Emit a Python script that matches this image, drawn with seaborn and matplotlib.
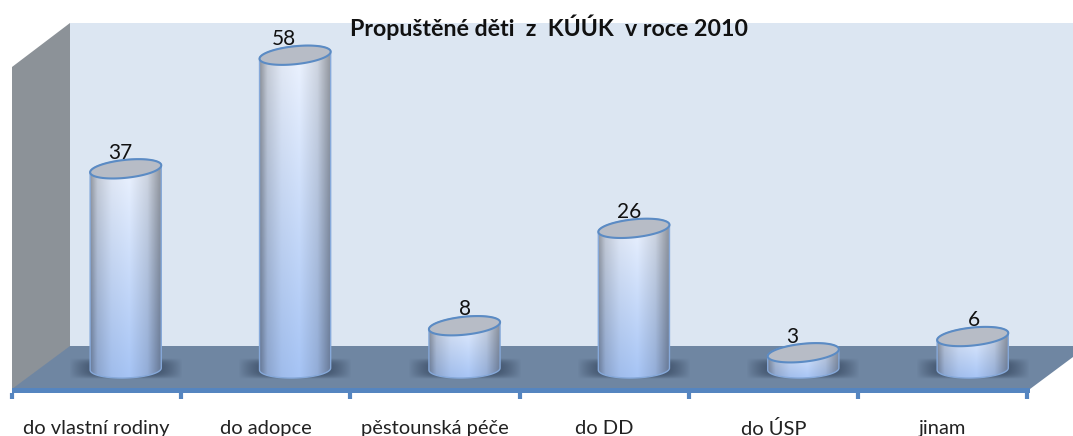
import numpy as np
import pandas as pd
import matplotlib
matplotlib.use("Agg")
import matplotlib.pyplot as plt
from matplotlib.patches import Polygon, Rectangle
from matplotlib.colors import to_rgb
import seaborn as sns

categories = ["do vlastní rodiny", "do adopce", "pěstounská péče", "do DD", "do ÚSP", "jinam"]
values = [37, 58, 8, 26, 3, 6]
title = "Propuštěné děti  z  KÚÚK  v roce 2010"

W, H = 1073, 436
PX_X = 169.4   # pixels per category
PX_Y = 5.41    # pixels per value unit

sns.set_theme(style="white")
plt.rcParams["font.family"] = ["Lato", "DejaVu Sans"]

fig = plt.figure(figsize=(W / 100, H / 100), dpi=100, facecolor="white")


def px_axes(left, top, right, bottom, **kw):
    return fig.add_axes([left / W, 1 - bottom / H, (right - left) / W, (bottom - top) / H], **kw)


# 3D box behind the chart, in pixel coordinates
bg = px_axes(0, 0, W, H)
bg.set_xlim(0, W)
bg.set_ylim(H, 0)
bg.axis("off")
bg.add_patch(Polygon([(70, 23), (1073, 23), (1073, 347), (70, 347)], color="#dce6f2", lw=0))
bg.add_patch(Polygon([(12, 67), (70, 23), (70, 347), (12, 390)], color="#8c9298", lw=0))
bg.add_patch(Polygon([(70, 346), (1073, 346), (1073, 357), (1030, 389), (12, 389)], color="#6f86a2", lw=0))
bg.add_patch(Rectangle((12, 388), 1018, 5, color="#5585c0", lw=0))
bg.text(549, 27.5, title, ha="center", va="center", fontsize=16.7, fontweight="bold", color="#111111")

# bars
ax = px_axes(41, 369 - 65 * PX_Y, 41 + 6 * PX_X, 369 + 5 * PX_Y, facecolor="none")
df = pd.DataFrame({"dest": categories, "n": values})
sns.barplot(data=df, x="dest", y="n", ax=ax, width=0.42, color="#c5d6f0", saturation=1)
ax.set_xlim(-0.5, 5.5)
ax.set_ylim(-5, 65)
ax.axis("off")

t = np.linspace(0, 2 * np.pi, 100)
top_h = 9.0 / PX_Y     # half height of the top ellipse
top_tilt = 3.5 / PX_Y  # right side sits higher than left side
low_h = 9.0 / PX_Y
low_tilt = 1.0 / PX_Y


def ring(cx, cy, half, phase, eh, tilt):
    return cx + half * np.cos(phase), cy + eh * np.sin(phase) + tilt * np.cos(phase)


def cylinder_image(top_col, bottom_col):
    # horizontal shading with a bright band just right of centre
    u = np.linspace(0, 1, 120)
    light = np.interp(u, [0, 0.1, 0.3, 0.55, 0.8, 1], [0.62, 0.84, 0.96, 1.0, 0.88, 0.6])
    v = np.linspace(0, 1, 80)[:, None, None]
    base = (1 - v) * np.array(to_rgb(top_col)) + v * np.array(to_rgb(bottom_col))
    return np.clip(base * light[None, :, None], 0, 1)


shadow_col = np.array(to_rgb("#33445c"))
for bar in list(ax.patches):
    bar.set_alpha(0)
    x0 = bar.get_x()
    w = bar.get_width()
    cx = x0 + w / 2
    half = w / 2
    h = bar.get_height()

    # soft shadow on the floor
    gx, gy = np.meshgrid(np.linspace(-1, 1, 120), np.linspace(-1, 1, 40))
    alpha = np.clip(1 - np.abs(gx) ** 2.5, 0, 1) * np.clip(1 - np.abs(gy) ** 3, 0, 1) * 0.95
    rgba = np.dstack([np.full_like(gx, c) for c in shadow_col] + [alpha])
    ax.imshow(rgba, extent=[cx - half * 1.6, cx + half * 1.6, -1.9, 1.9],
              aspect="auto", zorder=2, origin="lower", interpolation="bilinear")

    # cylinder body
    bx, by = ring(cx, 0, half, np.linspace(np.pi, 2 * np.pi, 50), low_h, low_tilt)
    tx, ty = ring(cx, h, half, np.linspace(0, np.pi, 50), top_h, top_tilt)
    outline = np.column_stack([np.r_[bx, tx], np.r_[by, ty]])
    ax.add_patch(Polygon(outline, closed=True, fc="none", ec="#86a9da", lw=1.0, zorder=4))
    im = ax.imshow(cylinder_image("#eef4ff", "#a6c4f5"), aspect="auto", zorder=3,
                   extent=[cx - half, cx + half, -low_h - low_tilt, h + top_h + top_tilt],
                   origin="upper", interpolation="bilinear")
    im.set_clip_path(Polygon(outline, closed=True, transform=ax.transData))

    # top face
    ex, ey = ring(cx, h, half, t, top_h, top_tilt)
    ax.fill(ex, ey, fc="#b7bcc6", ec="#5b8bc4", lw=1.5, zorder=5)

ax.set_xlim(-0.5, 5.5)
ax.set_ylim(-5, 65)

# value labels sit a little left of the top face
label_shift = [-5, -11, 0, -5, -11, 1]
for bar, val, dx in zip(ax.patches, values, label_shift):
    ax.annotate(str(val), (bar.get_x() + bar.get_width() / 2, bar.get_height()),
                xytext=(dx * 0.72, 4.5), textcoords="offset points", ha="center", va="bottom",
                fontsize=15, color="#111111", zorder=4.5)

# category axis, shifted left of the bars by the depth of the box
axis = px_axes(12, 380, 12 + 6 * PX_X - 1, 393, facecolor="none")
axis.set_xlim(-0.5, 5.5)
axis.set_ylim(0, 1)
axis.set_yticks([])
axis.set_xticks(range(len(categories)))
axis.set_xticklabels(categories, fontsize=14.5, color="#222222")
axis.tick_params(axis="x", which="major", length=0, pad=19.5)
axis.set_xticks(np.arange(-0.5, 6), minor=True)
axis.tick_params(axis="x", which="minor", length=4.5, width=3, color="#5585c0", bottom=True)
sns.despine(ax=axis, left=True, bottom=True)

fig.savefig("out.png", dpi=100)
